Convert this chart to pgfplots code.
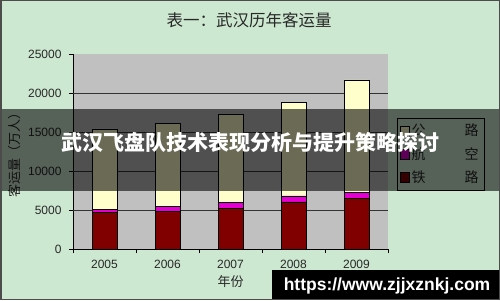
\documentclass[border=0pt]{standalone}
\usepackage{pgfplots}
\pgfplotsset{compat=1.18}
\usepackage{fontspec}
\setmainfont{Liberation Sans}
\newfontfamily\cjk{Noto Sans CJK SC}
\definecolor{bg}{RGB}{205,232,208}
\definecolor{plotbg}{RGB}{192,192,192}
\definecolor{tielu}{RGB}{128,0,0}
\definecolor{hangkong}{RGB}{228,0,210}
\definecolor{gonglu}{RGB}{255,255,204}
\definecolor{txt}{RGB}{40,40,40}
\pgfplotstableread{
x tielu hangkong gonglu
0 4650 440 10300
1 4830 680 10590
2 5220 720 11330
3 6030 770 12000
4 6450 770 14450
}\data
\begin{document}
\begin{tikzpicture}[x=1pt,y=1pt]
\fill[bg] (0,0) rectangle (500,300);
\node[txt, font=\cjk\fontsize{16.5}{18}\selectfont] at (249,280) {表一：武汉历年客运量};
\begin{axis}[at={(73pt,51pt)}, anchor=south west, scale only axis,
  width=315pt, height=195pt,
  ybar stacked, bar width=25pt,
  xmin=-0.5, xmax=4.5, ymin=0, ymax=25000,
  xtick={0,1,2,3,4}, xticklabels={2005,2006,2007,2008,2009},
  minor xtick={-0.5,0.5,1.5,2.5,3.5,4.5},
  ytick={0,5000,10000,15000,20000,25000},
  extra y ticks={5000,10000,15000,20000}, extra y tick labels={},
  extra y tick style={grid=major, major grid style={black!80, line width=0.8pt}},
  scaled y ticks=false,
  /pgf/number format/1000 sep={},
  /pgf/number format/assume math mode=true,
  axis background/.style={fill=plotbg},
  axis x line*=bottom, axis y line*=left,
  axis line style={-, black, line width=0.8pt},
  tick align=outside,
  major tick length=4pt, minor tick length=4pt,
  x tick style={draw=none},
  minor x tick style={draw=black, line width=0.6pt},
  y tick style={black, line width=0.6pt},
  tick label style={font=\fontsize{12}{14}\selectfont, text=txt},
  xticklabel style={yshift=-4pt},
  yticklabel style={xshift=-4pt},
  xlabel={年份},
  xlabel style={font=\cjk\fontsize{13}{15}\selectfont, text=txt, at={(axis description cs:0.5,-0.169)}, anchor=center},
  ylabel={客运量（万人）},
  ylabel style={font=\cjk\fontsize{13}{15}\selectfont, text=txt, at={(axis description cs:-0.184,0.5)}, anchor=center},
  reverse legend,
  legend style={at={(1.029,0.672)}, anchor=north west, draw=black, fill=none,
    font=\cjk\fontsize{14}{15}\selectfont, row sep=6pt, inner xsep=3pt, inner ysep=4pt, text=txt,
    /tikz/every even column/.append style={column sep=3pt}},
  legend cell align=left,
  mysq/.style={legend image code/.code={\draw[##1, draw=black, line width=0.4pt] (0pt,-5pt) rectangle (9pt,5pt);}},
]
\addplot[fill=tielu, draw=black, line width=0.6pt, mysq] table[x=x, y=tielu] {\data};
\addplot[fill=hangkong, draw=black, line width=0.6pt, mysq] table[x=x, y=hangkong] {\data};
\addplot[fill=gonglu, draw=black, line width=0.6pt, mysq] table[x=x, y=gonglu] {\data};
\legend{\makebox[67pt]{铁\hfill 路},\makebox[67pt]{航\hfill 空},\makebox[67pt]{公\hfill 路}}
\end{axis}
\fill[black, opacity=0.58] (0,109.5) rectangle (500,190.5);
\node[white, font=\cjk\bfseries\fontsize{21}{24}\selectfont] at (250,158) {武汉飞盘队技术表现分析与提升策略探讨};
\fill[black] (272,0) rectangle (500,30);
\node[white, font=\bfseries\fontsize{17.5}{20}\selectfont] at (387,14) {https://www.zjjxznkj.com};
\draw[black!70, line width=1.5pt] (0.75,0.75) rectangle (499.25,299.25);
\end{tikzpicture}
\end{document}
